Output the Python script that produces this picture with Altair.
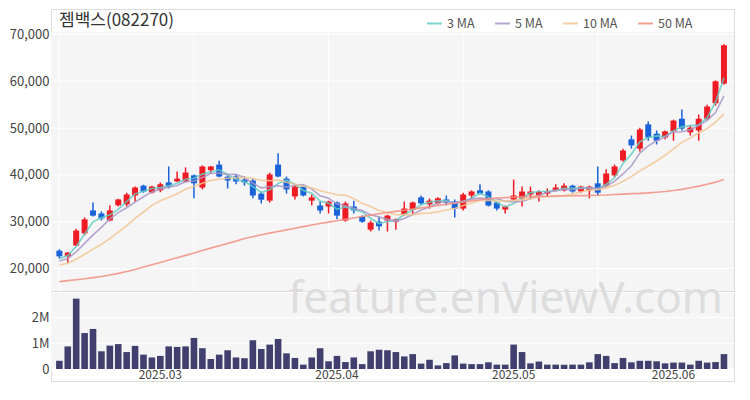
import altair as alt
import pandas as pd
import numpy as np

FONT = "Noto Sans CJK KR"
title_text = "젬백스(082270)"
watermark = "feature.enViewV.com"

opens = [23800, 22600, 24900, 27500, 32400, 31750, 30250, 33500, 33700, 35600,
         37700, 36250, 36700, 38400, 38600, 38600, 39900, 37300, 41000, 42200,
         39600, 39650, 39000, 38800, 36000, 34500, 42200, 39200, 35400, 37500,
         34500, 33450, 33250, 34100, 30250, 33250, 31100, 28300, 30000, 30250,
         30000, 31550, 32600, 35200, 33700, 33900, 34750, 34300, 32800, 35600,
         36700, 36450, 34100, 32600, 34750, 35000, 35800, 35600, 36000, 36700,
         36700, 37700, 36450, 36700, 38200, 37700, 39900, 43100, 47600, 45600,
         50800, 48800, 48000, 49300, 52000, 49100, 49500, 52000, 55300, 59500]
highs = [24100, 23500, 28500, 30900, 34100, 32200, 33500, 34900, 36200, 37500,
         37900, 37700, 38400, 41800, 40700, 41600, 40100, 42000, 41900, 43000,
         39900, 40100, 39650, 39200, 36450, 40500, 44600, 39650, 37900, 37700,
         35800, 34300, 34500, 34300, 34300, 34500, 31300, 30250, 31100, 31500,
         30700, 34300, 34300, 35600, 34950, 35200, 35600, 34750, 36200, 36700,
         38000, 36700, 34300, 33450, 39000, 37500, 37500, 36700, 37100, 38000,
         38200, 37900, 37700, 37700, 41800, 41200, 42200, 45600, 48400, 50100,
         51400, 49500, 49500, 51800, 54000, 50600, 52900, 55000, 60200, 67900]
lows = [22100, 21300, 24700, 27050, 31100, 30250, 30100, 33250, 33250, 34300,
        36200, 36000, 36300, 37100, 38500, 38400, 35000, 36900, 40300, 39500,
        37100, 38000, 37700, 35000, 33900, 34100, 39500, 36000, 34750, 35400,
        33500, 31750, 31750, 30500, 30000, 31750, 29800, 27900, 28100, 27900,
        28300, 31300, 31550, 33500, 32800, 33700, 33500, 30900, 32400, 35000,
        35800, 33250, 32400, 31750, 34500, 33250, 35000, 34300, 35400, 36450,
        36450, 36200, 36200, 35000, 35600, 37300, 39500, 42800, 45600, 45000,
        47300, 46500, 47600, 47300, 49500, 48400, 47300, 51600, 54800, 59300]
closes = [22600, 23400, 28100, 30500, 31300, 30700, 32400, 34750, 35800, 37300,
          36450, 37500, 38000, 37500, 39200, 40500, 38200, 41800, 41800, 39650,
          38800, 38600, 38400, 35600, 34700, 40100, 39650, 36900, 37500, 35600,
          35200, 32400, 34300, 31300, 33900, 32400, 30000, 29800, 29000, 31300,
          30500, 32800, 34100, 33900, 34500, 35000, 34100, 32800, 35800, 36450,
          36000, 33450, 32800, 33250, 35600, 36450, 36450, 36450, 36450, 37300,
          37700, 36450, 37500, 37500, 36200, 40300, 41800, 45200, 46300, 49700,
          48000, 47300, 49300, 51600, 49900, 50100, 52000, 54600, 60000, 67700]
volumes = [320000, 880000, 2740000, 1400000, 1560000, 690000, 910000, 970000, 660000, 900000,
           560000, 450000, 510000, 880000, 860000, 880000, 1210000, 810000, 390000, 560000,
           730000, 450000, 420000, 1120000, 780000, 950000, 1170000, 610000, 430000, 170000,
           450000, 810000, 300000, 510000, 270000, 450000, 190000, 690000, 750000, 730000,
           660000, 490000, 580000, 210000, 360000, 140000, 230000, 530000, 210000, 190000,
           190000, 260000, 170000, 170000, 950000, 660000, 220000, 290000, 170000, 170000,
           170000, 170000, 170000, 260000, 580000, 510000, 230000, 430000, 260000, 320000,
           320000, 300000, 220000, 250000, 250000, 170000, 320000, 250000, 270000, 580000]
# closes of the 9 sessions before the first visible one (for 3/5/10 MA)
prior_closes = [19800, 19500, 19900, 20300, 20100, 20600, 21000, 21400, 22300]
ma50 = [17200, 17400, 17600, 17800, 18050, 18300, 18600, 18950, 19350, 19800,
        20300, 20800, 21300, 21800, 22300, 22800, 23300, 23850, 24350, 24850,
        25350, 25850, 26400, 26800, 27200, 27550, 27900, 28250, 28600, 28950,
        29300, 29600, 29900, 30200, 30500, 30800, 31100, 31400, 31700, 31950,
        32200, 32450, 32700, 32950, 33200, 33450, 33700, 33950, 34200, 34450,
        34700, 34900, 35050, 35150, 35250, 35300, 35350, 35400, 35450, 35480,
        35500, 35530, 35560, 35600, 35650, 35700, 35800, 35900, 36000, 36050,
        36150, 36300, 36450, 36650, 36900, 37250, 37600, 38000, 38450, 39000]
month_tick_idx = [12, 33, 54, 73]
month_labels = ["2025.03", "2025.04", "2025.05", "2025.06"]
ma_names = ["3 MA", "5 MA", "10 MA", "50 MA"]
ma_colors = ["#62cdc3", "#a897c8", "#f2c591", "#f08f80"]
price_ticks = [20000, 30000, 40000, 50000, 60000, 70000]
vol_ticks = [0, 1000000, 2000000]
vgrid_idx = [0, 16, 32, 48, 64]

n = len(closes)
df = pd.DataFrame({"i": list(range(n)), "open": opens, "high": highs, "low": lows,
                   "close": closes, "volume": volumes})
ma_src = pd.DataFrame({"i": list(range(-len(prior_closes), n)),
                       "close": prior_closes + closes,
                       "ma50": [None] * len(prior_closes) + ma50})
one = pd.DataFrame({"k": [0]})

RED = "#ee1b24"
BLUE = "#1a62d8"
PANEL = "#f5f5f5"
W = 683
TOP_PANEL_Y = 23     # price panel starts here inside the top view (title/legend strip above)
TOP_H = 282
VOL_H = 88           # includes the strip for the date labels
VOL_PANEL_H = 76

x_scale = alt.Scale(domain=[-0.4, 79.6], nice=False, zero=False)
y_scale = alt.Scale(domain=[15190, 75449], nice=False, zero=False)
v_scale = alt.Scale(domain=[-467368, 2960000], nice=False, zero=False)

# ---- price view ----
panel_top = alt.Chart(one).mark_rect(color=PANEL).encode(
    x=alt.value(0), x2=alt.value(W), y=alt.value(TOP_PANEL_Y), y2=alt.value(TOP_H))
hgrid = alt.Chart(pd.DataFrame({"v": price_ticks})).mark_rule(color="#ffffff", strokeWidth=1).encode(
    y=alt.Y("v:Q", scale=y_scale,
            axis=alt.Axis(values=price_ticks, labelExpr="format(datum.value, ',')",
                          ticks=False, domain=False, grid=False, labelFontSize=13,
                          labelColor="#444444", labelFont=FONT, labelPadding=2, title=None)),
    x=alt.value(0), x2=alt.value(W))
vgrid = alt.Chart(pd.DataFrame({"g": vgrid_idx})).mark_rule(color="#ffffff", strokeWidth=1).encode(
    x=alt.X("g:Q", scale=x_scale, axis=None), y=alt.value(TOP_PANEL_Y), y2=alt.value(TOP_H))

cond_color = alt.condition("datum.close >= datum.open", alt.value(RED), alt.value(BLUE))
base = alt.Chart(df)
wick = base.mark_rule(strokeWidth=1.5).encode(
    x=alt.X("i:Q", scale=x_scale, axis=None), y=alt.Y("low:Q", scale=y_scale), y2="high:Q",
    color=cond_color)
body = base.mark_bar(size=6).encode(x="i:Q", y="open:Q", y2="close:Q", color=cond_color)

name_map = "{'ma3':'3 MA','ma5':'5 MA','ma10':'10 MA','ma50':'50 MA'}[datum.key]"
lines = (alt.Chart(ma_src)
         .transform_window(ma3="mean(close)", frame=[-2, 0], sort=[alt.SortField("i")])
         .transform_window(ma5="mean(close)", frame=[-4, 0], sort=[alt.SortField("i")])
         .transform_window(ma10="mean(close)", frame=[-9, 0], sort=[alt.SortField("i")])
         .transform_filter("datum.i >= 0")
         .transform_fold(["ma3", "ma5", "ma10", "ma50"], as_=["key", "value"])
         .transform_calculate(ma=name_map)
         .mark_line(strokeWidth=1.6, opacity=0.85)
         .encode(x="i:Q", y="value:Q",
                 color=alt.Color("ma:N", sort=ma_names,
                                 scale=alt.Scale(domain=ma_names, range=ma_colors),
                                 legend=alt.Legend(orient="none", legendX=375, legendY=6,
                                                   direction="horizontal", title=None,
                                                   symbolType="stroke", symbolStrokeWidth=2,
                                                   symbolSize=220, labelFontSize=12.5,
                                                   labelColor="#555555", labelFont=FONT,
                                                   columnPadding=16)),
                 detail="ma:N"))

title_mark = alt.Chart(pd.DataFrame({"t": [title_text]})).mark_text(
    align="left", baseline="middle", fontSize=17, color="#333333", font=FONT
).encode(x=alt.value(8), y=alt.value(12), text="t:N")

top = alt.layer(panel_top, hgrid, vgrid, wick, body, lines, title_mark).properties(
    width=W, height=TOP_H)

# ---- volume view ----
panel_vol = alt.Chart(one).mark_rect(color=PANEL).encode(
    x=alt.value(0), x2=alt.value(W), y=alt.value(0), y2=alt.value(VOL_PANEL_H))
vgrid_lines = alt.Chart(pd.DataFrame({"v": vol_ticks})).mark_rule(color="#ffffff", strokeWidth=1).encode(
    y=alt.Y("v:Q", scale=v_scale,
            axis=alt.Axis(values=vol_ticks,
                          labelExpr="datum.value == 0 ? '0' : format(datum.value / 1000000, 'd') + 'M'",
                          ticks=False, domain=False, grid=False, labelFontSize=13,
                          labelColor="#444444", labelFont=FONT, labelPadding=2, title=None)),
    x=alt.value(0), x2=alt.value(W))
wm = alt.Chart(pd.DataFrame({"t": [watermark]})).mark_text(
    align="right", baseline="alphabetic", fontSize=44, color="#dddddd", font="Noto Sans"
).encode(x=alt.value(672), y=alt.value(20), text="t:N")
vol_bars = alt.Chart(df).mark_bar(size=6.6, color="#413f6e").encode(
    x=alt.X("i:Q", scale=x_scale, axis=None),
    y=alt.Y("volume:Q", scale=v_scale), y2=alt.datum(0))
month_text = alt.Chart(pd.DataFrame({"m": month_tick_idx, "lab": month_labels})).mark_text(
    align="center", baseline="middle", fontSize=12, color="#444444", font=FONT
).encode(x=alt.X("m:Q", scale=x_scale), y=alt.value(82), text="lab:N")

vol = alt.layer(panel_vol, vgrid_lines, wm, vol_bars, month_text).properties(width=W, height=VOL_H)

chart = (alt.vconcat(top, vol, spacing=2, bounds="flush")
         .properties(padding={"left": 0, "top": 0, "right": 0, "bottom": 0})
         .configure_view(fill="#ffffff", stroke="transparent")
         .configure(background="#ffffff"))

chart.save("out.html", embed_options={"renderer": "svg", "actions": False})
